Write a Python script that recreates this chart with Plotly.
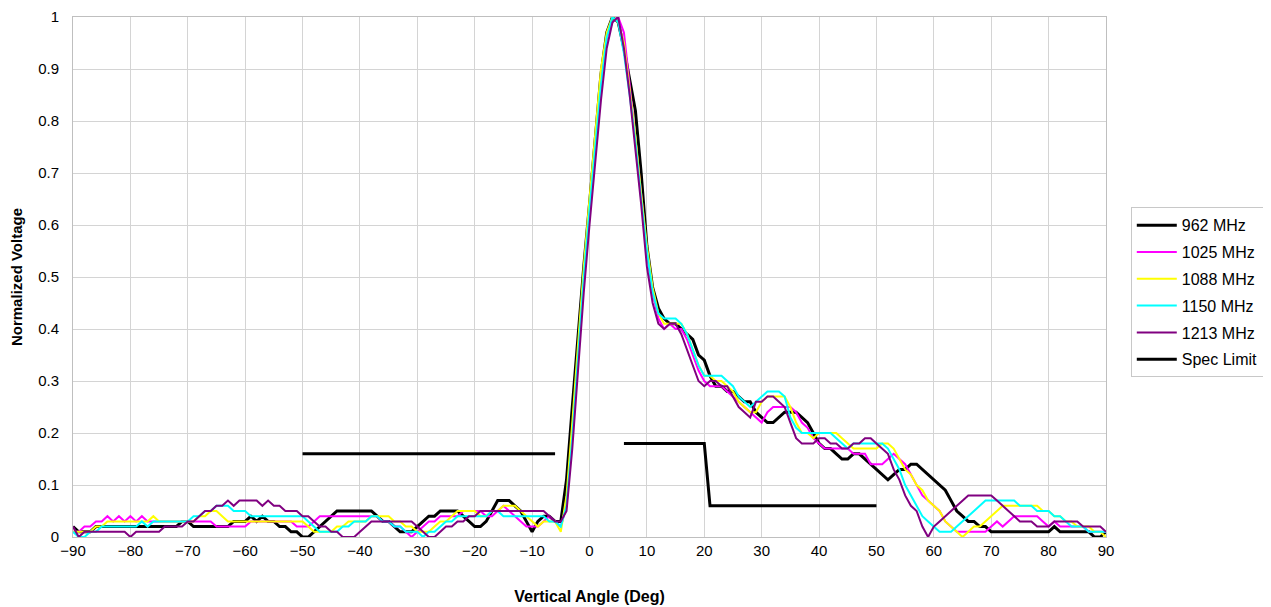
import plotly.graph_objects as go

angles = list(range(-90, 91))

mhz_962 = [
    0.02, 0.01, 0.01, 0.01, 0.02, 0.02, 0.02, 0.02, 0.02, 0.02,
    0.02, 0.02, 0.02, 0.02, 0.02, 0.02, 0.02, 0.02, 0.02, 0.03,
    0.03, 0.02, 0.02, 0.02, 0.02, 0.02, 0.02, 0.02, 0.03, 0.03,
    0.03, 0.04, 0.03, 0.04, 0.03, 0.03, 0.02, 0.02, 0.01, 0.01,
    0.00, 0.00, 0.01, 0.02, 0.03, 0.04, 0.05, 0.05, 0.05, 0.05,
    0.05, 0.05, 0.05, 0.04, 0.03, 0.03, 0.02, 0.01, 0.01, 0.01,
    0.02, 0.03, 0.04, 0.04, 0.05, 0.05, 0.05, 0.05, 0.04, 0.03,
    0.02, 0.02, 0.03, 0.05, 0.07, 0.07, 0.07, 0.06, 0.05, 0.03,
    0.01, 0.03, 0.04, 0.04, 0.03, 0.03, 0.11, 0.25, 0.39, 0.52,
    0.64, 0.76, 0.89, 0.97, 1.00, 0.99, 0.94, 0.88, 0.82, 0.70,
    0.56, 0.48, 0.44, 0.42, 0.41, 0.41, 0.40, 0.39, 0.38, 0.35,
    0.34, 0.31, 0.29, 0.29, 0.28, 0.28, 0.27, 0.26, 0.26, 0.24,
    0.23, 0.22, 0.22, 0.23, 0.24, 0.24, 0.24, 0.23, 0.22, 0.20,
    0.18, 0.17, 0.17, 0.16, 0.15, 0.15, 0.16, 0.16, 0.15, 0.14,
    0.13, 0.12, 0.11, 0.12, 0.13, 0.13, 0.14, 0.14, 0.13, 0.12,
    0.11, 0.10, 0.09, 0.07, 0.05, 0.04, 0.03, 0.03, 0.02, 0.02,
    0.01, 0.01, 0.01, 0.01, 0.01, 0.01, 0.01, 0.01, 0.01, 0.01,
    0.01, 0.02, 0.01, 0.01, 0.01, 0.01, 0.01, 0.01, 0.00, 0.00, 0.01,
]

mhz_1025 = [
    0.01, 0.01, 0.02, 0.02, 0.03, 0.03, 0.04, 0.03, 0.04, 0.03,
    0.04, 0.03, 0.04, 0.03, 0.03, 0.03, 0.03, 0.03, 0.03, 0.03,
    0.03, 0.03, 0.03, 0.03, 0.03, 0.02, 0.02, 0.02, 0.02, 0.02,
    0.02, 0.03, 0.03, 0.03, 0.03, 0.03, 0.03, 0.03, 0.03, 0.02,
    0.02, 0.02, 0.03, 0.04, 0.04, 0.04, 0.04, 0.04, 0.04, 0.04,
    0.04, 0.04, 0.04, 0.04, 0.03, 0.03, 0.02, 0.02, 0.01, 0.00,
    0.01, 0.02, 0.03, 0.03, 0.04, 0.04, 0.04, 0.04, 0.05, 0.05,
    0.05, 0.05, 0.04, 0.04, 0.05, 0.06, 0.05, 0.04, 0.03, 0.02,
    0.02, 0.02, 0.03, 0.04, 0.03, 0.02, 0.06, 0.20, 0.35, 0.50,
    0.63, 0.75, 0.88, 0.96, 0.99, 1.00, 0.97, 0.87, 0.77, 0.66,
    0.55, 0.47, 0.42, 0.40, 0.41, 0.40, 0.40, 0.38, 0.35, 0.32,
    0.30, 0.29, 0.29, 0.29, 0.28, 0.27, 0.26, 0.25, 0.24, 0.23,
    0.22, 0.24, 0.25, 0.25, 0.25, 0.25, 0.24, 0.22, 0.21, 0.19,
    0.18, 0.17, 0.17, 0.17, 0.17, 0.17, 0.16, 0.16, 0.16, 0.14,
    0.14, 0.14, 0.15, 0.16, 0.15, 0.14, 0.12, 0.10, 0.08, 0.07,
    0.06, 0.05, 0.03, 0.02, 0.01, 0.01, 0.01, 0.01, 0.01, 0.01,
    0.02, 0.03, 0.02, 0.03, 0.04, 0.04, 0.04, 0.04, 0.04, 0.03,
    0.02, 0.03, 0.02, 0.02, 0.02, 0.02, 0.02, 0.01, 0.01, 0.01, 0.01,
]

mhz_1088 = [
    0.01, 0.01, 0.01, 0.01, 0.02, 0.02, 0.03, 0.03, 0.03, 0.03,
    0.03, 0.03, 0.03, 0.03, 0.04, 0.03, 0.03, 0.03, 0.03, 0.03,
    0.03, 0.03, 0.04, 0.04, 0.05, 0.05, 0.04, 0.03, 0.03, 0.03,
    0.03, 0.03, 0.03, 0.03, 0.03, 0.03, 0.03, 0.03, 0.03, 0.03,
    0.03, 0.02, 0.01, 0.01, 0.01, 0.01, 0.02, 0.02, 0.03, 0.03,
    0.03, 0.03, 0.04, 0.04, 0.04, 0.04, 0.03, 0.03, 0.02, 0.02,
    0.01, 0.01, 0.01, 0.02, 0.03, 0.03, 0.04, 0.05, 0.05, 0.05,
    0.05, 0.04, 0.04, 0.05, 0.05, 0.06, 0.06, 0.06, 0.05, 0.04,
    0.03, 0.02, 0.03, 0.03, 0.03, 0.01, 0.08, 0.22, 0.37, 0.52,
    0.65, 0.77, 0.90, 0.97, 1.00, 0.99, 0.95, 0.86, 0.77, 0.66,
    0.56, 0.48, 0.43, 0.41, 0.41, 0.41, 0.41, 0.39, 0.36, 0.33,
    0.31, 0.31, 0.30, 0.30, 0.29, 0.28, 0.26, 0.25, 0.24, 0.24,
    0.26, 0.27, 0.27, 0.27, 0.27, 0.25, 0.22, 0.20, 0.20, 0.19,
    0.20, 0.20, 0.20, 0.20, 0.19, 0.18, 0.17, 0.17, 0.17, 0.17,
    0.17, 0.18, 0.18, 0.17, 0.15, 0.13, 0.12, 0.10, 0.09, 0.07,
    0.06, 0.05, 0.03, 0.02, 0.01, 0.00, 0.01, 0.02, 0.02, 0.03,
    0.04, 0.05, 0.06, 0.06, 0.06, 0.06, 0.06, 0.06, 0.06, 0.05,
    0.05, 0.04, 0.04, 0.03, 0.03, 0.02, 0.02, 0.02, 0.01, 0.01, 0.00,
]

mhz_1150 = [
    0.01, 0.00, 0.00, 0.01, 0.01, 0.02, 0.02, 0.02, 0.02, 0.02,
    0.02, 0.02, 0.03, 0.02, 0.03, 0.03, 0.03, 0.03, 0.03, 0.03,
    0.03, 0.04, 0.04, 0.05, 0.05, 0.06, 0.06, 0.06, 0.05, 0.05,
    0.05, 0.04, 0.04, 0.04, 0.04, 0.04, 0.04, 0.04, 0.04, 0.04,
    0.04, 0.03, 0.02, 0.01, 0.01, 0.01, 0.01, 0.02, 0.02, 0.03,
    0.03, 0.03, 0.04, 0.04, 0.03, 0.03, 0.02, 0.02, 0.01, 0.01,
    0.01, 0.00, 0.01, 0.01, 0.02, 0.03, 0.03, 0.04, 0.04, 0.04,
    0.04, 0.04, 0.04, 0.05, 0.05, 0.04, 0.04, 0.04, 0.04, 0.04,
    0.04, 0.04, 0.04, 0.03, 0.03, 0.02, 0.06, 0.19, 0.35, 0.50,
    0.63, 0.75, 0.87, 0.96, 1.00, 0.99, 0.93, 0.85, 0.76, 0.65,
    0.55, 0.47, 0.43, 0.42, 0.42, 0.42, 0.41, 0.39, 0.36, 0.33,
    0.31, 0.31, 0.31, 0.31, 0.30, 0.29, 0.27, 0.26, 0.25, 0.26,
    0.27, 0.28, 0.28, 0.28, 0.27, 0.23, 0.21, 0.20, 0.20, 0.20,
    0.20, 0.20, 0.20, 0.19, 0.18, 0.17, 0.18, 0.18, 0.18, 0.18,
    0.18, 0.18, 0.17, 0.15, 0.13, 0.10, 0.08, 0.06, 0.04, 0.03,
    0.02, 0.01, 0.01, 0.01, 0.02, 0.03, 0.04, 0.05, 0.06, 0.07,
    0.07, 0.07, 0.07, 0.07, 0.07, 0.06, 0.06, 0.06, 0.05, 0.05,
    0.05, 0.04, 0.04, 0.03, 0.02, 0.02, 0.02, 0.01, 0.01, 0.01, 0.01,
]

mhz_1213 = [
    0.02, 0.00, 0.01, 0.01, 0.01, 0.01, 0.01, 0.01, 0.01, 0.01,
    0.00, 0.01, 0.01, 0.01, 0.01, 0.01, 0.02, 0.02, 0.02, 0.02,
    0.03, 0.03, 0.04, 0.05, 0.05, 0.06, 0.06, 0.07, 0.06, 0.07,
    0.07, 0.07, 0.07, 0.06, 0.07, 0.06, 0.06, 0.05, 0.05, 0.05,
    0.04, 0.04, 0.03, 0.02, 0.02, 0.01, 0.01, 0.00, 0.00, 0.00,
    0.01, 0.02, 0.03, 0.03, 0.03, 0.03, 0.03, 0.03, 0.03, 0.03,
    0.02, 0.01, 0.00, 0.00, 0.01, 0.02, 0.02, 0.03, 0.03, 0.04,
    0.04, 0.05, 0.05, 0.05, 0.05, 0.05, 0.05, 0.05, 0.05, 0.05,
    0.05, 0.05, 0.05, 0.04, 0.03, 0.03, 0.05, 0.17, 0.32, 0.47,
    0.60, 0.72, 0.84, 0.94, 0.99, 1.00, 0.94, 0.85, 0.75, 0.64,
    0.52, 0.45, 0.41, 0.40, 0.41, 0.41, 0.39, 0.36, 0.33, 0.30,
    0.29, 0.30, 0.30, 0.29, 0.29, 0.27, 0.25, 0.24, 0.23, 0.26,
    0.26, 0.27, 0.27, 0.26, 0.25, 0.22, 0.19, 0.18, 0.18, 0.18,
    0.19, 0.19, 0.18, 0.18, 0.17, 0.17, 0.18, 0.18, 0.19, 0.19,
    0.18, 0.17, 0.16, 0.13, 0.11, 0.08, 0.06, 0.05, 0.02, 0.00,
    0.02, 0.03, 0.04, 0.05, 0.06, 0.07, 0.08, 0.08, 0.08, 0.08,
    0.08, 0.07, 0.06, 0.05, 0.04, 0.03, 0.03, 0.03, 0.02, 0.02,
    0.02, 0.03, 0.03, 0.03, 0.03, 0.03, 0.02, 0.02, 0.02, 0.02, 0.01,
]

spec_x = [-50, -6, None, 6, 20, 21, 50]
spec_y = [0.16, 0.16, None, 0.18, 0.18, 0.06, 0.06]

series = [
    ("962 MHz", mhz_962, "#000000", 3),
    ("1025 MHz", mhz_1025, "#FF00FF", 2),
    ("1088 MHz", mhz_1088, "#FFFF00", 2),
    ("1150 MHz", mhz_1150, "#00FFFF", 2),
    ("1213 MHz", mhz_1213, "#800080", 2),
]

fig = go.Figure()
for name, vals, color, w in series:
    fig.add_trace(go.Scatter(x=angles, y=vals, mode="lines", name=name,
                             legendgroup=name,
                             line=dict(color=color, width=w)))
fig.add_trace(go.Scatter(x=spec_x, y=spec_y, mode="lines", name="Spec Limit",
                         legendgroup="spec", connectgaps=False,
                         line=dict(color="#000000", width=3)))

font_family = "Liberation Sans, Arial, sans-serif"
fig.update_layout(
    width=1263, height=599,
    margin=dict(l=65, r=165, t=9, b=70, autoexpand=False),
    paper_bgcolor="white", plot_bgcolor="white",
    font=dict(family=font_family, size=15, color="black"),
    showlegend=True,
    legend=dict(x=1.024, y=0.634, xanchor="left", yanchor="top",
                bordercolor="#c8c8c8", borderwidth=1, bgcolor="white",
                font=dict(size=16), tracegroupgap=3, itemwidth=40),
    xaxis=dict(range=[-90, 90], tickmode="array",
               tickvals=list(range(-90, 91, 10)),
               showgrid=True, gridcolor="#d4d4d4", gridwidth=1,
               zeroline=False, showline=True, linecolor="#bfbfbf",
               mirror=True, ticks="", tickfont=dict(size=15), automargin=False,
               ticklabeloverflow="allow",
               title=dict(text="<b>Vertical Angle (Deg)</b>", font=dict(size=16), standoff=32)),
    yaxis=dict(range=[0, 1], tickmode="array",
               tickvals=[0, 0.1, 0.2, 0.3, 0.4, 0.5, 0.6, 0.7, 0.8, 0.9, 1],
               ticktext=["0", "0.1", "0.2", "0.3", "0.4", "0.5", "0.6", "0.7", "0.8", "0.9", "1"],
               showgrid=True, gridcolor="#d4d4d4", gridwidth=1,
               zeroline=False, showline=True, linecolor="#bfbfbf",
               mirror=True, ticks="", tickfont=dict(size=15), automargin=False,
               ticklabelstandoff=10, ticklabeloverflow="allow",
               title=dict(text="<b>Normalized Voltage</b>", font=dict(size=15), standoff=12)),
)

fig.write_html("out.html")
